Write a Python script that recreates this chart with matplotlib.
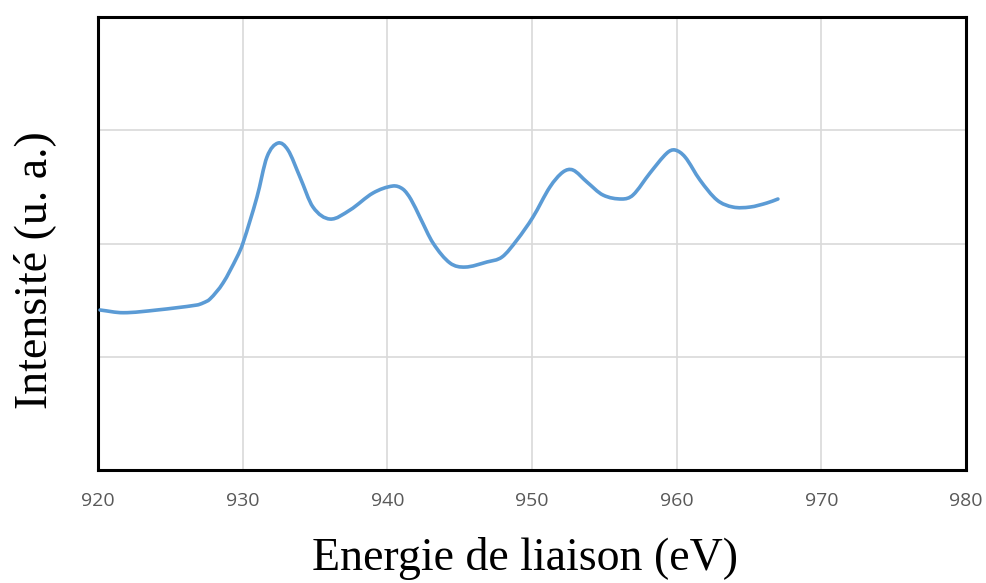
import matplotlib
matplotlib.use("Agg")
import matplotlib.pyplot as plt
from matplotlib.path import Path
from matplotlib.patches import PathPatch

# XPS Cu 2p spectrum: binding energy (eV) and intensity (arbitrary units)
energy = [920.14, 921.73, 924.08, 926.84, 927.26, 927.74, 928.64, 929.61, 930.02,
          930.99, 931.68, 932.44, 933.13, 933.96, 934.86, 936.04, 937.42, 939.01,
          940.39, 941.08, 941.63, 942.26, 943.16, 944.33, 945.37, 946.89, 947.93,
          948.96, 950.07, 951.24, 952.14, 952.83, 953.80, 954.91, 956.22, 956.98,
          958.16, 959.33, 959.88, 960.58, 961.61, 962.79, 963.89, 965.07, 966.24,
          967.00]
intensity = [1.413, 1.389, 1.413, 1.457, 1.475, 1.510, 1.651, 1.881, 2.004,
             2.411, 2.764, 2.887, 2.826, 2.587, 2.322, 2.216, 2.296, 2.446,
             2.508, 2.480, 2.390, 2.230, 2.004, 1.828, 1.792, 1.837, 1.881,
             2.031, 2.234, 2.499, 2.631, 2.649, 2.543, 2.428, 2.393, 2.428,
             2.623, 2.799, 2.826, 2.764, 2.561, 2.384, 2.322, 2.322, 2.358,
             2.393]
x_ticks = [920, 930, 940, 950, 960, 970, 980]
y_grid = [1, 2, 3]


def smooth_path(xs, ys):
    """Cubic Hermite/Bezier path through the points, with finite-difference slopes."""
    n = len(xs)
    slopes = []
    for i in range(n):
        a = max(i - 1, 0)
        b = min(i + 1, n - 1)
        slopes.append((ys[b] - ys[a]) / (xs[b] - xs[a]))
    verts = [(xs[0], ys[0])]
    codes = [Path.MOVETO]
    for i in range(n - 1):
        h = xs[i + 1] - xs[i]
        c1 = (xs[i] + h / 3, ys[i] + slopes[i] * h / 3)
        c2 = (xs[i + 1] - h / 3, ys[i + 1] - slopes[i + 1] * h / 3)
        verts += [c1, c2, (xs[i + 1], ys[i + 1])]
        codes += [Path.CURVE4] * 3
    return Path(verts, codes)


fig = plt.figure(figsize=(9.87, 5.83), dpi=100)
ax = fig.add_axes([0.0993, 0.1938, 0.8794, 0.777])

ax.add_patch(PathPatch(smooth_path(energy, intensity), fill=False,
                       edgecolor="#5B9BD5", linewidth=2.6,
                       capstyle="round", joinstyle="round", zorder=3))

ax.set_xlim(920, 980)
ax.set_ylim(0, 4)
ax.set_xticks(x_ticks)
ax.set_yticks(y_grid)
ax.set_yticklabels([])
ax.tick_params(axis="both", length=0)
ax.tick_params(axis="x", pad=16, labelsize=14, labelcolor="#595959")
for lbl in ax.get_xticklabels():
    lbl.set_family(["Open Sans", "DejaVu Sans"])
ax.grid(True, color="#D9D9D9", linewidth=1.2, zorder=0)
ax.set_axisbelow(True)
for sp in ax.spines.values():
    sp.set_color("black")
    sp.set_linewidth(2.2)

serif = ["Liberation Serif", "DejaVu Serif"]
fig.text(525 / 987, 1 - 570 / 583, "Energie de liaison (eV)", family=serif,
         fontsize=33, ha="center", va="baseline")
fig.text(35 / 987, 1 - 270 / 583, "Intensité (u. a.)", family=serif,
         fontsize=33, rotation=90, ha="center", va="center")

fig.savefig("out.png", dpi=100)
